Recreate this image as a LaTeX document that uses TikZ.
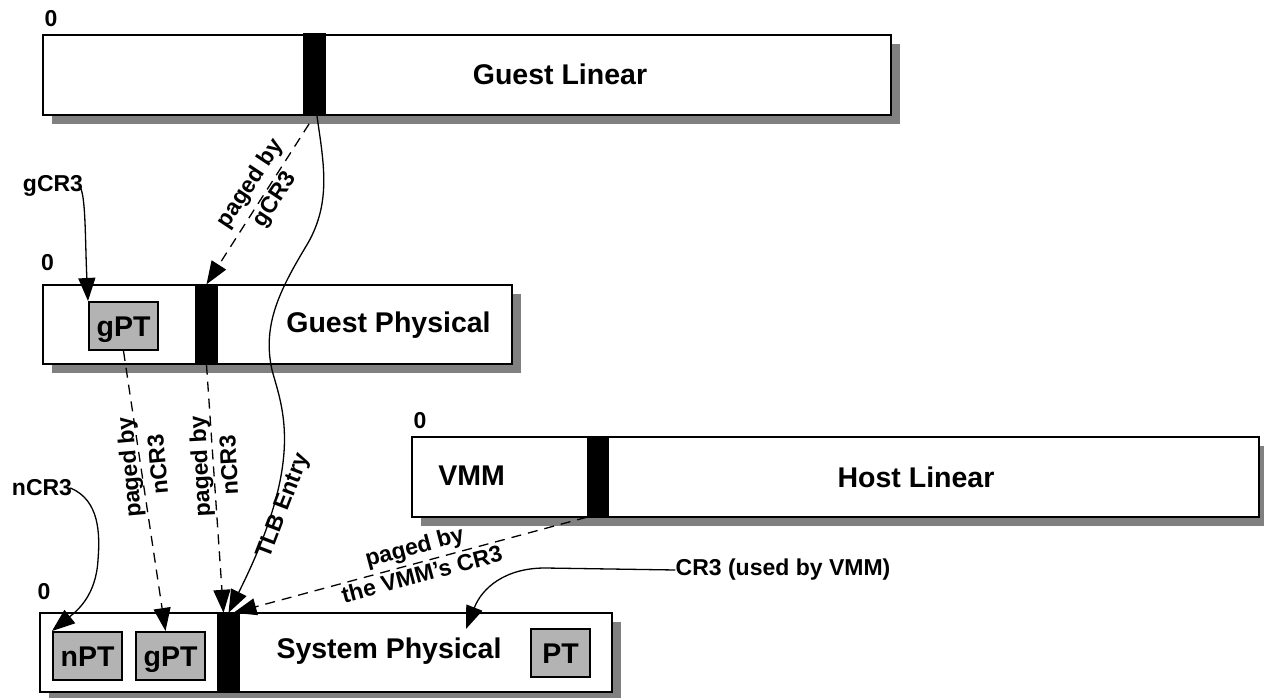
\documentclass[tikz,border=0pt]{standalone}
\usepackage{fontspec}
\setmainfont{Liberation Sans}
\usetikzlibrary{arrows.meta,shadows}
\definecolor{shadowgray}{HTML}{808080}
\definecolor{ptgray}{HTML}{B3B3B3}
\newcommand\figbig{\bfseries\fontsize{28.5}{34}\selectfont}
\newcommand\figsmall{\bfseries\fontsize{23}{29}\selectfont}
\tikzset{
  space/.style={draw=black, line width=2.5pt, fill=white, inner sep=0pt,
    drop shadow={shadow xshift=9pt, shadow yshift=-9pt, fill=shadowgray, opacity=1}},
  bar/.style={fill=black, inner sep=0pt, minimum width=23pt},
  ptbox/.style={draw=black, line width=2pt, fill=ptgray, inner sep=0pt,
    minimum width=69pt, minimum height=48pt, text height=20pt, text depth=0pt, font=\figbig},
  big/.style={font=\figbig, inner sep=0pt},
  lbl/.style={font=\figsmall, inner sep=0pt, align=center},
  conn/.style={line width=1.3pt, -{Triangle[length=23pt,width=17pt]}},
  dconn/.style={conn, dash pattern=on 10pt off 7pt},
}
\begin{document}
\begin{tikzpicture}[x=1pt,y=-1pt]
\useasboundingbox (0,0) rectangle (1264,698);

% Guest Linear
\node[space, minimum width=848pt, minimum height=80pt] (gl) at (467,75) {};
\node[bar, minimum height=83pt] (glbar) at (314,74.5) {};
\node[big, anchor=base] (gltxt) at (560,85) {Guest Linear};
\node[lbl] (z1) at (51,18.5) {0};

% Guest Physical
\node[space, minimum width=469pt, minimum height=79pt] (gp) at (277.5,324.5) {};
\node[bar, minimum height=80pt] (gpbar) at (206.5,324.5) {};
\node[ptbox] (gpt1) at (123.5,326) {gPT};
\node[big, anchor=base] (gptxt) at (388.5,332) {Guest Physical};
\node[lbl] (z2) at (47.5,262.5) {0};
\node[lbl] (gcr3) at (53,186) {gCR3};

% Host Linear
\node[space, minimum width=847pt, minimum height=80pt] (hl) at (835.5,477) {};
\node[bar, minimum height=80pt, minimum width=22pt] (hlbar) at (598,477) {};
\node[big, anchor=base] (vmm) at (471.5,485) {VMM};
\node[big, anchor=base] (hltxt) at (916,487) {Host Linear};
\node[lbl] (z3) at (420,421) {0};

% System Physical
\node[space, minimum width=572pt, minimum height=79pt] (sp) at (326,652.5) {};
\node[bar, minimum height=79pt] (spbar) at (228.5,652.5) {};
\node[ptbox] (npt) at (87.5,656) {nPT};
\node[ptbox] (gpt2) at (170.5,656) {gPT};
\node[ptbox, minimum width=59pt] (pt) at (560.5,653) {PT};
\node[big, anchor=base] (sptxt) at (389,658) {System Physical};
\node[lbl] (z4) at (44,592) {0};
\node[lbl] (ncr3) at (42,488) {nCR3};
\node[lbl] (cr3) at (783,570) {CR3 (used by VMM)};
\coordinate (cr3tip) at (466,629);

% connectors
\draw[conn] ([xshift=-4pt]gcr3.east) .. controls (86,192) and (85,240) .. (gpt1.north west);
\draw[conn] ([xshift=-2pt]ncr3.east) .. controls (100,500) and (100,535) .. (98,560)
   .. controls (96,595) and (78,610) .. (npt.north west);
\draw[conn] ([xshift=3pt]glbar.south) .. controls (324,165) and (332,205) .. (305,248)
   .. controls (280,290) and (262,325) .. (272,370)
   .. controls (283,410) and (305,460) .. (spbar.north);
\draw[dconn, shorten <=9pt] (glbar.south) -- (gpbar.north);
\draw[dconn] (gpt1.south) -- ([xshift=-5pt]gpt2.north);
\draw[dconn] (gpbar.south) -- ([xshift=-5pt]spbar.north);
\draw[dconn] (hlbar.south west) -- ([xshift=5pt]spbar.north);
\draw[conn] (cr3.west) -- (545,568) .. controls (505,568) and (482,588) .. (cr3tip);

% labels
\node[lbl, rotate=56.5] at (263,192) {paged by\\gCR3};
\node[lbl, rotate=95] at (143,466) {paged by\\nCR3};
\node[lbl, rotate=93] at (214,466) {paged by\\nCR3};
\node[lbl, rotate=69] at (284,506) {TLB Entry};
\node[lbl, rotate=15] at (418,560) {paged by\\the VMM’s CR3};
\end{tikzpicture}
\end{document}
